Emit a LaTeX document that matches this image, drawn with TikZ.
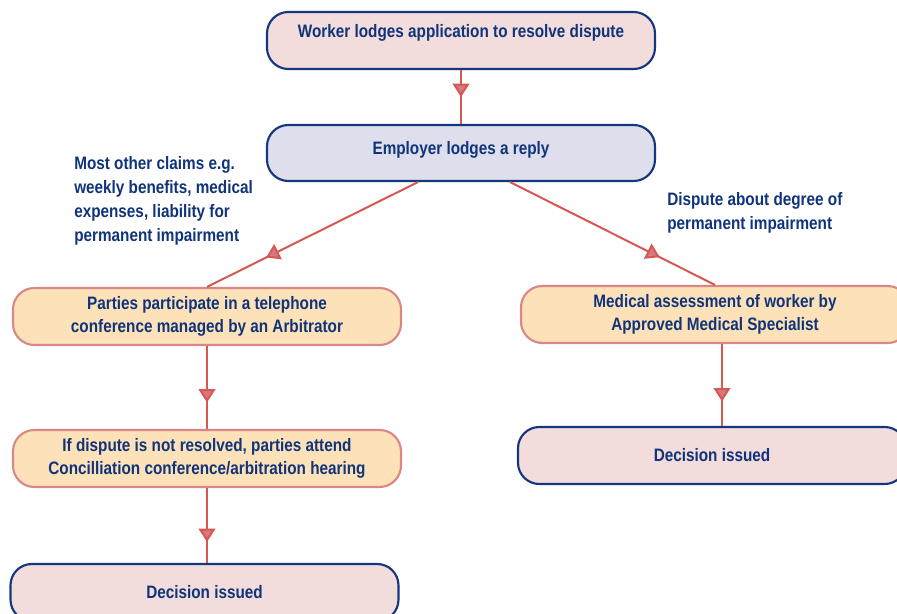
\documentclass[tikz,border=0pt]{standalone}
\usepackage{fontspec}
\setmainfont{Liberation Sans}[FakeStretch=0.85]
\usepackage{xcolor}
\usetikzlibrary{arrows.meta,decorations.markings,calc}
\definecolor{txtblue}{RGB}{16,52,122}
\definecolor{navy}{RGB}{20,55,125}
\definecolor{pinkfill}{RGB}{242,220,220}
\definecolor{lavfill}{RGB}{222,222,236}
\definecolor{orfill}{RGB}{253,225,185}
\definecolor{ordraw}{RGB}{218,135,135}
\definecolor{linered}{RGB}{214,88,80}
\definecolor{tipfill}{RGB}{214,120,130}

\begin{document}
\begin{tikzpicture}[x=0.75pt,y=-0.75pt,
    font=\fontsize{13.5}{17.5}\selectfont\bfseries, text=txtblue,
    box/.style={line width=1.6pt, rounded corners=16pt, minimum width=291pt,
      minimum height=42.75pt, align=center, inner sep=2pt},
    pinkbox/.style={box, draw=navy, fill=pinkfill},
    lavbox/.style={box, draw=navy, fill=lavfill},
    orbox/.style={box, draw=ordraw, fill=orfill},
    note/.style={anchor=west, align=left, inner sep=0pt, font=\fontsize{13.5}{18}\selectfont\bfseries},
    link/.style={draw=linered, line width=1.5pt, postaction={decorate},
      decoration={markings, mark=at position #1 with {\arrow{Triangle[width=12.5pt,length=10pt,fill=tipfill]}}}}]
	\useasboundingbox (0,0) rectangle (897,614);
	\clip (0,0) rectangle (897,614);
	% boxes
	\node[pinkbox, text height=9pt, text depth=12.9pt] (lodge) at (461,40.5) {Worker lodges application to resolve dispute};
	\node[lavbox, minimum height=42pt, text height=9pt, text depth=6.2pt] (reply) at (461,153) {Employer lodges a reply};
	\node[orbox] (phone) at (207,316.5) {Parties participate in a telephone\\conference managed by an Arbitrator};
	\node[orbox] (hearing) at (207,458.5) {If dispute is not resolved, parties attend\\Concilliation conference/arbitration hearing};
	\node[pinkbox] (decleft) at (204.5,592.5) {Decision issued};
	\node[orbox] (medical) at (715,314.5) {Medical assessment of worker by\\Approved Medical Specialist};
	\node[pinkbox] (decright) at (712,455.5) {Decision issued};
	% notes
	\node[note] (claims) at (74,201) {Most other claims e.g.\\weekly benefits, medical\\expenses, liability for\\permanent impairment};
	\node[note] (degree) at (667,213) {Dispute about degree of\\permanent impairment};
	% connectors
	\draw[link=0.5] (lodge) -- (reply);
	\draw[link=0.72] ($(reply.south)+(-43,0)$) -- (phone.north);
	\draw[link=0.73] ($(reply.south)+(49,0)$) -- (medical.north);
	\draw[link=0.68] (phone.south) -- (phone.south |- hearing.north);
	\draw[link=0.72] (hearing.south) -- (hearing.south |- decleft.north);
	\draw[link=0.7] ([xshift=5.25pt]medical.south) coordinate (medfoot) -- (medfoot |- decright.north);
\end{tikzpicture}
\end{document}
